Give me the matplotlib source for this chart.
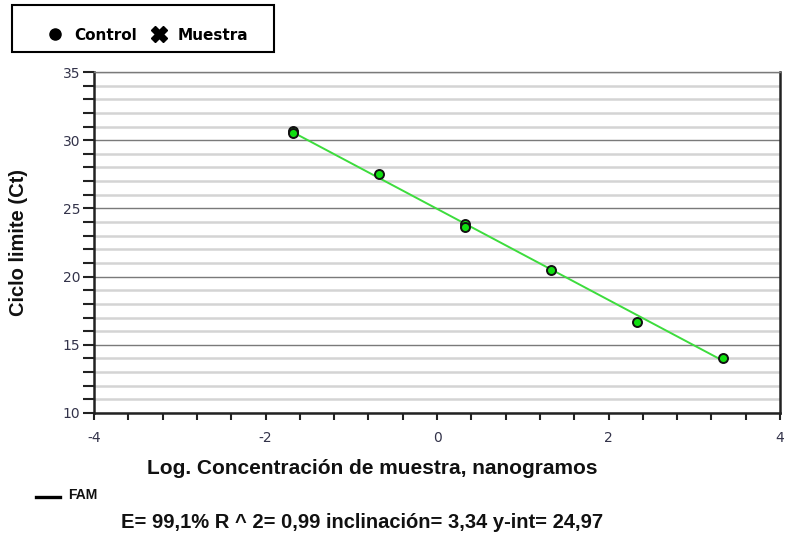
import numpy as np
import matplotlib
matplotlib.use("Agg")
import matplotlib.pyplot as plt
from matplotlib.lines import Line2D
from matplotlib.patches import Rectangle
from matplotlib.ticker import MultipleLocator

plt.rcParams["axes.unicode_minus"] = False

# standard curve data (log concentration vs Ct)
log_conc = [-1.68, -1.68, -0.68, 0.33, 0.33, 1.33, 2.33, 3.33]
ct_vals = [30.65, 30.55, 27.52, 23.85, 23.6, 20.48, 16.67, 14.06]
slope = -3.34
y_int = 24.97
efficiency = "99,1%"
r2 = "0,99"

x_ticks = [-4, -2, 0, 2, 4]
y_ticks = [10, 15, 20, 25, 30, 35]

W, H = 788, 542
fig = plt.figure(figsize=(W / 100, H / 100), dpi=100)
ax = fig.add_axes([94 / W, 1 - 413 / H, (780 - 94) / W, (413 - 72) / H])

# fitted line over the data range
xf = np.array([min(log_conc), max(log_conc)])
ax.plot(xf, slope * xf + y_int, color="#3ddc3d", lw=1.4, zorder=3)
ax.scatter(log_conc, ct_vals, s=42, color="#11e011", edgecolors="#111111",
           linewidths=1.4, zorder=4)

ax.set_xlim(-4, 4)
ax.set_ylim(10, 35)
ax.set_xticks(x_ticks)
ax.set_yticks(y_ticks)
ax.xaxis.set_minor_locator(MultipleLocator(0.4))
ax.yaxis.set_minor_locator(MultipleLocator(1))

ax.grid(axis="y", which="major", color="#7a7a7a", lw=1.0, zorder=1)
ax.grid(axis="y", which="minor", color="#d4d4d4", lw=1.8, zorder=0)
ax.set_axisbelow(True)

tick_col = "#33334a"
ax.tick_params(axis="both", which="both", direction="out", color="#222222",
               labelcolor=tick_col, labelsize=10, width=1.5)
ax.tick_params(axis="y", which="both", length=8, pad=2)
ax.tick_params(axis="x", which="both", length=5, pad=8)
for lab in ax.get_xticklabels() + ax.get_yticklabels():
    lab.set_family("DejaVu Sans")

for side in ["left", "bottom", "right"]:
    ax.spines[side].set_color("#222222")
    ax.spines[side].set_linewidth(1.8)
ax.spines["top"].set_color("#7a7a7a")
ax.spines["top"].set_linewidth(1.0)

bold = dict(family="Liberation Sans", weight="bold", color="#111111")
fig.text(19 / W, 1 - 243 / H, "Ciclo limite (Ct)", rotation=90,
         ha="center", va="center", fontsize=14.5, **bold)
fig.text(372 / W, 1 - 468 / H, "Log. Concentración de muestra, nanogramos",
         ha="center", va="center", fontsize=15, **bold)
fig.text(362 / W, 1 - 523 / H,
         f"E= {efficiency} R ^ 2= {r2} inclinación= {-slope:.2f} y-int= {y_int:.2f}".replace(".", ","),
         ha="center", va="center", fontsize=14.5, **bold)

# FAM line key
fig.add_artist(Line2D([36 / W, 60 / W], [1 - 497 / H, 1 - 497 / H], color="black", lw=2.4))
fig.text(68 / W, 1 - 495 / H, "FAM", ha="left", va="center", fontsize=10, **bold)

# top legend box
fig.add_artist(Rectangle((12 / W, 1 - 52 / H), (274 - 12) / W, (52 - 5) / H,
                         transform=fig.transFigure, fill=False, ec="black", lw=1.5))
handles = [Line2D([], [], ls="none", marker="o", color="black", markersize=8),
           Line2D([], [], ls="none", marker="X", color="black", markersize=11)]
fig.legend(handles, ["Control", "Muestra"], loc="center",
           bbox_to_anchor=(148 / W, 1 - 35 / H), ncol=2, frameon=False,
           handlelength=1.0, handletextpad=0.75, columnspacing=0.9,
           prop=dict(family="DejaVu Sans", weight="bold", size=11))

fig.savefig("out.png", dpi=100)
